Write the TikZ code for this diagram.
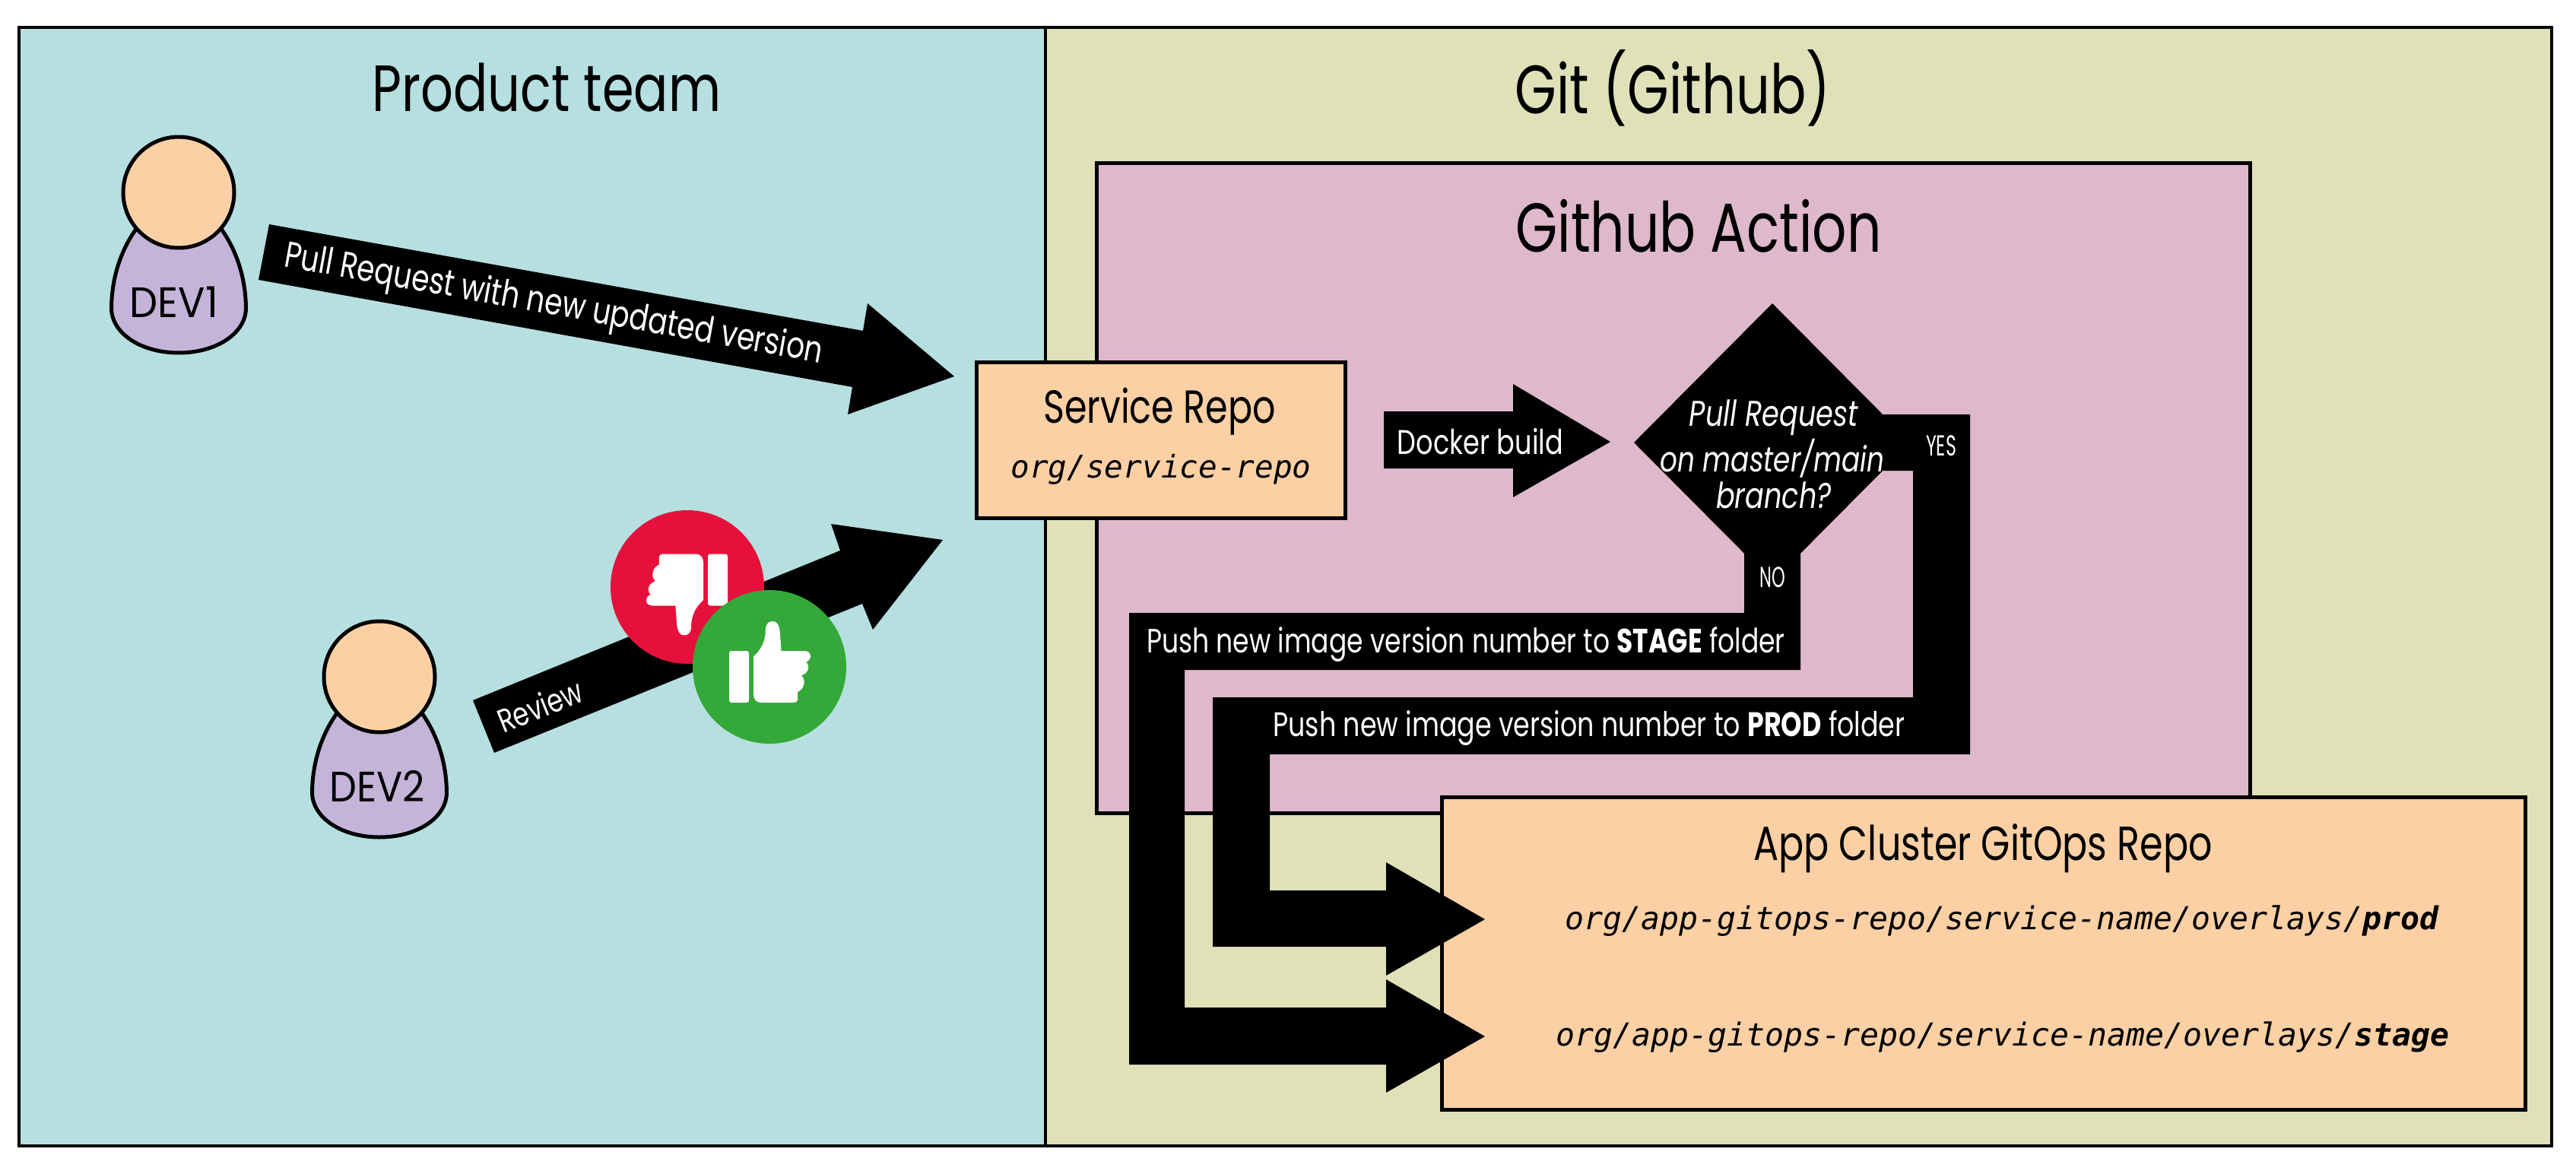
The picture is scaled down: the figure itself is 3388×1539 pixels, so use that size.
\documentclass[tikz,border=0pt]{standalone}
\usepackage{fontspec}
\setmainfont{Poppins}[FakeStretch=0.78]
\setmonofont{DejaVu Sans Mono}
\definecolor{teal}{HTML}{B6DFE0}
\definecolor{olive}{HTML}{DFE1B8}
\definecolor{pinkbox}{HTML}{DEB9CB}
\definecolor{peach}{HTML}{FBD0A4}
\definecolor{lilac}{HTML}{C4B4D9}
\definecolor{redc}{HTML}{E6103C}
\definecolor{greenc}{HTML}{34A838}
\newcommand\fs[1]{\fontsize{#1}{#1}\selectfont}
\tikzset{
  x=1pt,y=-1pt,
  panel/.style={draw=black,line width=4.5pt,line join=miter},
  boxline/.style={draw=black,line width=5pt},
  blockarrow/.style={fill=black,draw=none},
  wtext/.style={text=white,inner sep=0pt,align=center},
  btext/.style={text=black,inner sep=0pt,align=center},
  headnode/.style={circle,draw=black,line width=5pt,fill=peach,minimum size=146pt,inner sep=0pt,outer sep=0pt},
  peachbox/.style={draw=black,line width=5pt,fill=peach,inner sep=0pt,outer sep=0pt,anchor=north west},
  pics/devbody/.style={code={
    \filldraw[fill=lilac,draw=black,line width=5pt]
      (-88.5,152) .. controls (-88,110) and (-75,75) .. (-56,48) -- (0,15) -- (56,48)
      .. controls (75,75) and (88,110) .. (88.5,152)
      .. controls (88.5,185) and (50,211) .. (0,211)
      .. controls (-50,211) and (-88.5,185) .. (-88.5,152) -- cycle;
  }},
  pics/thumbicon/.style={code={
    \fill[white,rounded corners=3pt] (-53,-21) rectangle (-27,47);
    \fill[white] (4.2,-60) .. controls (-2,-60) and (-5,-55) .. (-5,-50)
      .. controls (-5,-38) and (-8,-25) .. (-21,-13.7)
      -- (-21,36) .. controls (-21,43) and (-17,47) .. (-10.5,47)
      -- (31.6,47) .. controls (35,47) and (37.2,45) .. (37.2,43)
      -- (37.2,33) .. controls (43,30) and (46,26) .. (45.6,18)
      .. controls (45,15) and (44,13) .. (42,11.3)
      .. controls (48,9) and (51,6) .. (51.2,0)
      .. controls (51,-3) and (50,-5) .. (48,-6)
      .. controls (52,-8) and (54,-11) .. (54,-14)
      .. controls (54,-18) and (51,-21) .. (46,-21)
      -- (15.5,-21) -- (14,-43.7) .. controls (13,-55) and (10,-60) .. (4.2,-60) -- cycle;
  }}
}
\begin{document}
\begin{tikzpicture}
\useasboundingbox (0,0) rectangle (3388,1539);
\fill[white] (0,0) rectangle (3388,1539);
% panels
\filldraw[fill=teal,panel] (25,36) rectangle (1375,1507);
\filldraw[fill=olive,panel] (1375,36) rectangle (3356,1507);
\node[btext,font=\fs{86}] (teamtitle) at (719,115) {Product team};
\node[btext,font=\fs{90}] (gittitle) at (2200,116) {Git (Github)};
% action box
\filldraw[fill=pinkbox,boxline] (1442,214) rectangle (2959,1069);
\node[btext,font=\fs{91}] (actiontitle) at (2234,297) {Github Action};
% service box
\node[peachbox,minimum width=485pt,minimum height=205pt] (service) at (1284,476) {};
\node[btext,font=\fs{61}] (servicetitle) at (1525,541) {Service Repo};
\node[btext,font=\fs{41}\ttfamily\itshape] (servicepath) at (1527,617) {org/service-repo};
% persons
\pic at (235,253) {devbody};
\node[headnode] (dev1) at (235,253) {};
\node[btext,font=\fs{56}] (dev1label) at (229,397) {\scalebox{1.2}[1]{DEV1}};
\pic at (499,890) {devbody};
\node[headnode] (dev2) at (499,890) {};
\node[btext,font=\fs{56}] (dev2label) at (496,1034) {\scalebox{1.16}[1]{DEV2}};
% PR arrow
\fill[blockarrow] (354,295) -- (1135,435) -- (1141,399) -- (1255,495) -- (1115,545) -- (1121,509) -- (340,368) -- cycle;
\node[wtext,font=\fs{48},rotate=-10.2] (prlabel) at (728,402) {Pull Request with new updated version};
% review arrow
\fill[blockarrow] (622,921) -- (1105,724) -- (1093,689) -- (1240,710) -- (1148,828) -- (1134,794) -- (650,990) -- cycle;
\node[wtext,font=\fs{43},rotate=22] (reviewlabel) at (710,928) {Review};
% thumbs
\fill[redc] (904,772) circle (101pt);
\pic[rotate=180] at (904,775.5) {thumbicon};
\fill[greenc] (1012,877) circle (101pt);
\pic at (1012,877) {thumbicon};
% docker arrow
\fill[blockarrow] (1820,541) -- (1990,541) -- (1990,505) -- (2118,581) -- (1990,654) -- (1990,616) -- (1820,616) -- cycle;
\node[wtext,font=\fs{45}] (dockerlabel) at (1947,581) {Docker build};
% app box
\node[peachbox,minimum width=1425pt,minimum height=411pt] (appbox) at (1896,1048) {};
\node[btext,font=\fs{63}] (apptitle) at (2608,1116) {App Cluster GitOps Repo};
\node[btext,font=\fs{41.5}\ttfamily\itshape] (prodpath) at (2633,1211) {org/app-gitops-repo/service-name/overlays/\textbf{prod}};
\node[btext,font=\fs{41.5}\ttfamily\itshape] (stagepath) at (2634,1364) {org/app-gitops-repo/service-name/overlays/\textbf{stage}};
% decision
\fill[blockarrow] (2331,399) -- (2513,582) -- (2331,765) -- (2149,582) -- cycle;
\node[wtext,font=\fs{47}\itshape] (q1) at (2333,549) {Pull Request};
\node[wtext,font=\fs{46}\itshape] (q2) at (2331,603) {on master/main};
\node[wtext,font=\fs{47}\itshape] (q3) at (2333,651) {branch?};
% stage flow
\fill[blockarrow] (2294,728) -- (2294,806) -- (1485,806) -- (1485,1400) -- (1823,1400) -- (1823,1437) -- (1953,1363) -- (1823,1288) -- (1823,1325) -- (1558,1325) -- (1558,881) -- (2368,881) -- (2368,728) -- cycle;
% prod flow
\fill[blockarrow] (2477,545) -- (2591,545) -- (2591,992) -- (1670,992) -- (1670,1171) -- (1823,1171) -- (1823,1134) -- (1953,1209) -- (1823,1283) -- (1823,1245) -- (1595,1245) -- (1595,917) -- (2516,917) -- (2516,619) -- (2477,619) -- cycle;
\node[wtext,font=\fs{38}] (yeslabel) at (2553,586) {\scalebox{.8}[1]{YES}};
\node[wtext,font=\fs{38}] (nolabel) at (2331,759) {\scalebox{.76}[1]{NO}};
\node[wtext,font=\fs{44.3}] (stagelabel) at (1928,848) {Push new image version number to \textbf{STAGE} folder};
\node[wtext,font=\fs{44.7}] (prodlabel) at (2090,957) {Push new image version number to \textbf{PROD} folder};
\end{tikzpicture}
\end{document}
